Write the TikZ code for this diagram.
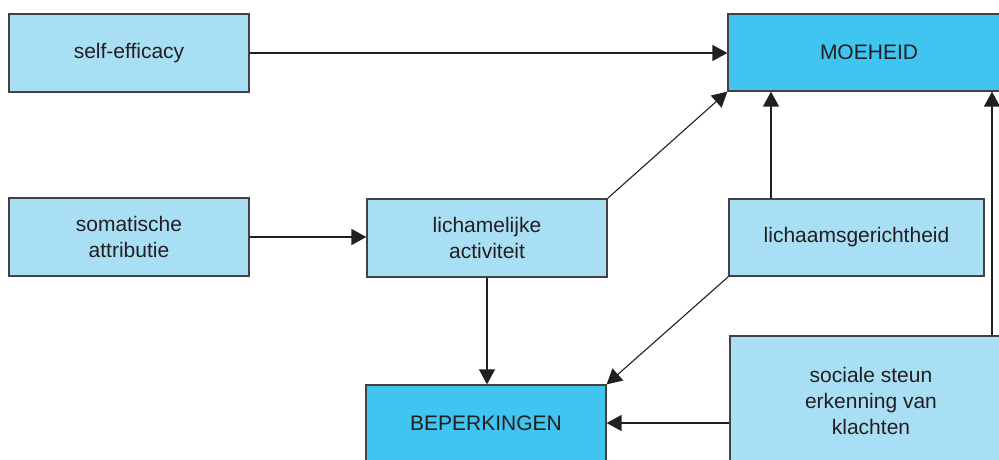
\documentclass[tikz,border=0pt]{standalone}
\usepackage{fontspec}
\setmainfont{Liberation Sans}
\usetikzlibrary{arrows.meta}
\definecolor{lightbox}{HTML}{A9DFF5}
\definecolor{darkbox}{HTML}{40C4F0}
\definecolor{ink}{HTML}{231F20}
\begin{document}
\begin{tikzpicture}[x=1pt,y=-1pt,
  box/.style={draw=ink!85, line width=1.3pt, fill=lightbox, text=ink, align=center,
    font=\fontsize{21}{26}\selectfont, inner sep=0pt},
  mainbox/.style={box, fill=darkbox},
  arr/.style={draw=ink, line width=1.6pt, -{Triangle[length=15pt,width=16pt]}},
  thinarr/.style={draw=ink, line width=1.1pt, -{Triangle[length=15pt,width=16pt]}}]
\useasboundingbox (0,0) rectangle (999,459);
\node[box, minimum width=240pt, minimum height=78pt] (se) at (129,53) {self-efficacy};
\node[box, minimum width=240pt, minimum height=78pt] (sa) at (129,237) {somatische\\attributie};
\node[box, minimum width=240pt, minimum height=78pt] (la) at (487,238) {lichamelijke\\activiteit};
\node[box, minimum width=255pt, minimum height=77pt] (lg) at (856.5,237.5) {lichaamsgerichtheid};
\node[mainbox, minimum width=282pt, minimum height=77pt] (moe) at (869,52.5) {MOEHEID};
\node[mainbox, minimum width=240pt, minimum height=76pt] (bep) at (486,423) {BEPERKINGEN};
\node[box, minimum width=282pt, minimum height=130pt] (ss) at (871,401) {sociale steun\\erkenning van\\klachten};
\coordinate (rx) at (992,0);
\draw[arr] (se.east) -- (moe.west |- se.east);
\draw[arr] (sa.east) -- (la.west |- sa.east);
\draw[thinarr] (la.north east) -- (moe.south west);
\draw[arr] ([xshift=-85.5pt]lg.north) -- ([xshift=-85.5pt]lg.north |- moe.south);
\draw[arr] (ss.north -| rx) -- (moe.south -| rx);
\draw[thinarr] (la.south) -- (la.south |- bep.north);
\draw[thinarr] (lg.south west) -- (bep.north east);
\draw[arr] (ss.west |- bep.east) -- (bep.east);
\end{tikzpicture}
\end{document}
